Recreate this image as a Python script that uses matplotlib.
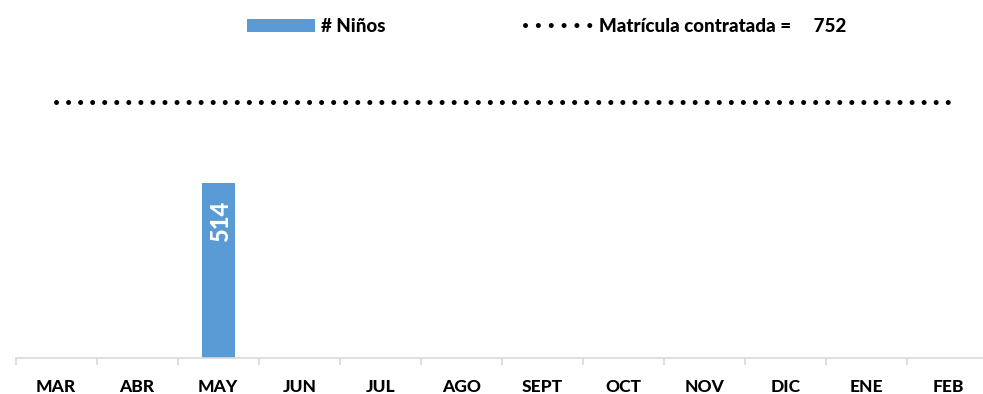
import numpy as np
from matplotlib import pyplot as plt
from matplotlib.lines import Line2D
from matplotlib.patches import Patch

months = ["MAR", "ABR", "MAY", "JUN", "JUL", "AGO", "SEPT", "OCT", "NOV", "DIC", "ENE", "FEB"]
ninos = [np.nan, np.nan, 514, np.nan, np.nan, np.nan, np.nan, np.nan, np.nan, np.nan, np.nan, np.nan]
matricula = [752] * 12

plt.rcParams["font.family"] = ["Lato", "DejaVu Sans"]
plt.rcParams["font.weight"] = "bold"

bar_color = "#5B9BD5"
axis_color = "#D9D9D9"

fig = plt.figure(figsize=(9.83, 3.94), dpi=100)
# axis runs slightly past the right edge, as in the original
ax = fig.add_axes([15.5 / 983, 36 / 394, 973 / 983, 340 / 394])

x = np.arange(len(months))
ax.bar(x, ninos, width=0.41, color=bar_color, zorder=2)
ax.plot(x, matricula, color="black", lw=3.6, linestyle=(0, (0.01, 2.4)),
        dash_capstyle="round", zorder=3)

for xi, val in zip(x, ninos):
    if not np.isnan(val):
        ax.text(xi + 0.03, val - 111, f"{val:.0f}", rotation=90, ha="center", va="center",
                color="white", fontsize=17, fontweight="black")

ax.set_xlim(-0.5, len(months) - 0.5)
ax.set_ylim(0, 1000)
ax.set_yticks([])
for side in ["left", "right", "top"]:
    ax.spines[side].set_visible(False)
ax.spines["bottom"].set_color(axis_color)
ax.spines["bottom"].set_linewidth(1.2)

ax.set_xticks(x)
ax.set_xticklabels(months, fontsize=12.5, fontweight="black")
ax.tick_params(axis="x", which="major", length=0, pad=15)
ax.set_xticks(np.arange(-0.5, len(months)), minor=True)
ax.tick_params(axis="x", which="minor", length=5, color=axis_color, width=1.2)

handles = [
    Patch(facecolor=bar_color, edgecolor="none"),
    Line2D([0], [0], color="black", lw=3.6, linestyle=(0, (0.01, 2.56)), dash_capstyle="round"),
]
labels = ["# Niños", "Matrícula contratada =     752"]
fig.legend(handles, labels, loc="center", bbox_to_anchor=(0.556, 0.933), ncol=2,
           frameon=False, handlelength=3.63, handleheight=0.68,
           handletextpad=0.35, columnspacing=7.4,
           prop={"size": 13.5, "weight": "black"})

fig.savefig("out.png", dpi=100)
